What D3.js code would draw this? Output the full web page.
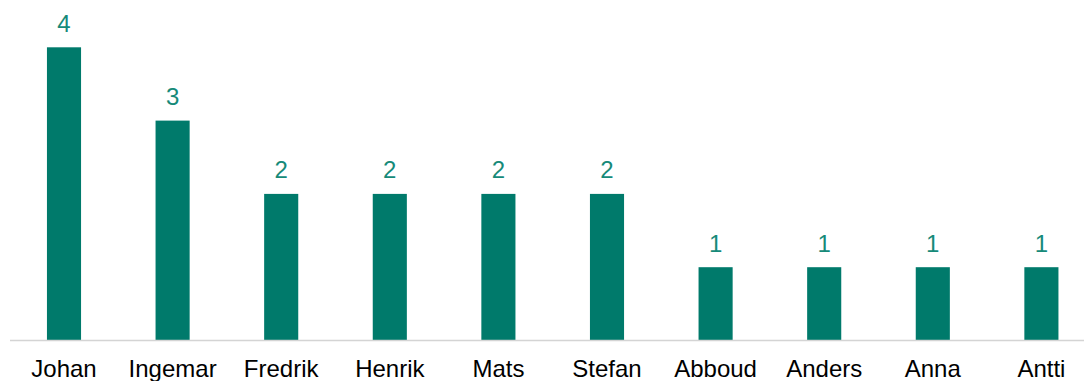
<!DOCTYPE html>
<html>
<head>
<meta charset="utf-8">
<script src="https://cdn.jsdelivr.net/npm/d3@7"></script>
<style>
  html, body { margin: 0; padding: 0; background: #fff; }
  svg { display: block; }
</style>
</head>
<body>
<div id="chart"></div>
<script>
const categories = ["Johan", "Ingemar", "Fredrik", "Henrik", "Mats", "Stefan", "Abboud", "Anders", "Anna", "Antti"];
const values = [4, 3, 2, 2, 2, 2, 1, 1, 1, 1];

const W = 1084, H = 381;
const svg = d3.select("#chart").append("svg").attr("width", W).attr("height", H);

const x = d3.scaleBand().domain(categories).range([9.7, 1095.7]).paddingInner(0.686).paddingOuter(0.343);
const y = d3.scaleLinear().domain([0, 4]).range([340.5, 47.3]);

const data = categories.map((c, i) => ({ c, v: values[i] }));

svg.append("g").selectAll("rect").data(data).join("rect")
  .attr("x", d => x(d.c))
  .attr("y", d => y(d.v))
  .attr("width", x.bandwidth())
  .attr("height", d => y(0) - y(d.v))
  .attr("fill", "#007A6B");

const axis = svg.append("g").attr("transform", `translate(0,${y(0)})`)
  .call(d3.axisBottom(x).tickSize(0).tickPadding(0));
axis.select(".domain").attr("d", `M10,0H${W}`).attr("stroke", "#d4d4d4").attr("stroke-width", 1.5);
axis.selectAll("text")
  .attr("y", 36).attr("dy", null)
  .attr("font-family", "'Liberation Sans', Arial, sans-serif")
  .attr("font-size", 24).attr("fill", "#000");

svg.append("g").selectAll("text").data(data).join("text")
  .attr("x", d => x(d.c) + x.bandwidth() / 2)
  .attr("y", d => y(d.v) - 15.6)
  .attr("text-anchor", "middle")
  .attr("font-family", "'Liberation Sans', Arial, sans-serif")
  .attr("font-size", 24)
  .attr("fill", "#168A79")
  .text(d => d.v);
</script>
</body>
</html>
